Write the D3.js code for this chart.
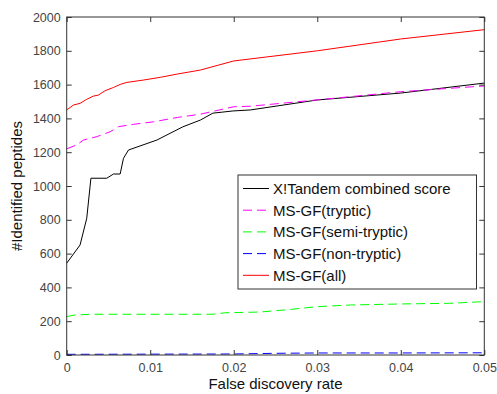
<!DOCTYPE html>
<html>
<head>
<meta charset="utf-8">
<script src="https://cdn.jsdelivr.net/npm/d3@7"></script>
<style>
body { margin: 0; background: #fff; }
svg { font-family: "Liberation Sans", Arial, sans-serif; }
</style>
</head>
<body>
<svg id="chart" width="497" height="394"></svg>
<script>
// FDR values (x) and #identified peptides (y)
var tandemFdr = [0, 0.0016, 0.0024, 0.0029, 0.0048, 0.0056, 0.0064, 0.0068, 0.0074, 0.0108, 0.0139, 0.016, 0.0175, 0.0199, 0.022, 0.030, 0.040, 0.050];
var tandemVal = [543, 651, 809, 1046, 1046, 1071, 1071, 1164, 1213, 1272, 1350, 1390, 1431, 1444, 1450, 1509, 1550, 1609];

var trypticFdr = [0, 0.0012, 0.002, 0.0036, 0.0052, 0.0062, 0.008, 0.0104, 0.0133, 0.016, 0.020, 0.022, 0.032, 0.040, 0.050];
var trypticVal = [1220, 1243, 1272, 1292, 1321, 1351, 1365, 1380, 1406, 1425, 1469, 1472, 1519, 1558, 1592];

var semiFdr = [0, 0.001, 0.003, 0.010, 0.0175, 0.019, 0.023, 0.026, 0.030, 0.034, 0.040, 0.046, 0.050];
var semiVal = [227, 237, 241, 241, 241, 250, 254, 266, 286, 296, 302, 306, 316];

var nonFdr = [0, 0.010, 0.020, 0.025, 0.030, 0.040, 0.050];
var nonVal = [4, 5, 6, 10, 12, 12, 13];

var allFdr = [0, 0.0008, 0.0016, 0.0024, 0.0032, 0.0038, 0.0046, 0.0056, 0.0064, 0.0072, 0.0092, 0.0112, 0.0133, 0.016, 0.020, 0.030, 0.040, 0.050];
var allVal = [1450, 1479, 1489, 1513, 1532, 1538, 1564, 1583, 1601, 1613, 1627, 1643, 1663, 1686, 1740, 1800, 1870, 1925];

var seriesNames = ["X!Tandem combined score", "MS-GF(tryptic)", "MS-GF(semi-tryptic)", "MS-GF(non-tryptic)", "MS-GF(all)"];
var seriesColors = ["#000000", "#ff00ff", "#00ff00", "#0000ff", "#ff0000"];
var seriesDashed = [false, true, true, true, false];

var xTicks = [0, 0.01, 0.02, 0.03, 0.04, 0.05];
var yTicks = [0, 200, 400, 600, 800, 1000, 1200, 1400, 1600, 1800, 2000];

var svg = d3.select("#chart");
var mLeft = 66.7, mRight = 484.3, mTop = 17, mBottom = 355;

var x = d3.scaleLinear().domain([0, 0.05]).range([mLeft, mRight]);
var y = d3.scaleLinear().domain([0, 2000]).range([mBottom, mTop]);

var series = [
	{fdr: tandemFdr, val: tandemVal},
	{fdr: trypticFdr, val: trypticVal},
	{fdr: semiFdr, val: semiVal},
	{fdr: nonFdr, val: nonVal},
	{fdr: allFdr, val: allVal}
];

var line = d3.line()
	.x(function (d) {return x(d[0]);})
	.y(function (d) {return y(d[1]);});

// lines
var plot = svg.append("g");
series.forEach(function (s, i) {
	var pts = s.fdr.map(function (f, j) {return [f, s.val[j]];});
	plot.append("path")
	.attr("d", line(pts))
	.attr("fill", "none")
	.attr("stroke", seriesColors[i])
	.attr("stroke-width", 1)
	.attr("stroke-dasharray", seriesDashed[i] ? "9,5" : null);
});

// axes, ticks inside (matlab style)
var axisColor = "#333";
function styleAxis(g) {
	g.select(".domain").remove();
	g.selectAll(".tick line").attr("stroke", axisColor);
	g.selectAll(".tick text").attr("fill", "#444").style("font-size", "12.5px").style("font-family", "Liberation Sans, Arial, sans-serif");
}

svg.append("g")
	.attr("transform", "translate(0," + mBottom + ")")
	.call(d3.axisBottom(x).tickValues(xTicks).tickSize(-5).tickPadding(8).tickFormat(d3.format("")))
	.call(styleAxis);

svg.append("g")
	.attr("transform", "translate(0," + mTop + ")")
	.call(d3.axisTop(x).tickValues(xTicks).tickSize(-5).tickFormat(""))
	.call(styleAxis);

svg.append("g")
	.attr("transform", "translate(" + mLeft + ",0)")
	.call(d3.axisLeft(y).tickValues(yTicks).tickSize(-5).tickPadding(6).tickFormat(d3.format("d")))
	.call(styleAxis);

svg.append("g")
	.attr("transform", "translate(" + mRight + ",0)")
	.call(d3.axisRight(y).tickValues(yTicks).tickSize(-5).tickFormat(""))
	.call(styleAxis);

svg.append("rect")
	.attr("x", mLeft).attr("y", mTop)
	.attr("width", mRight - mLeft).attr("height", mBottom - mTop)
	.attr("fill", "none").attr("stroke", axisColor).attr("stroke-width", 1);

// axis titles
svg.append("text")
	.attr("x", (mLeft + mRight) / 2).attr("y", 389)
	.attr("text-anchor", "middle")
	.style("font-size", "15px")
	.attr("fill", "#111")
	.text("False discovery rate");

svg.append("text")
	.attr("transform", "translate(22," + ((mTop + mBottom) / 2) + ") rotate(-90)")
	.attr("text-anchor", "middle")
	.style("font-size", "15px")
	.attr("fill", "#111")
	.text("#Identified peptides");

// legend
var legend = svg.append("g").attr("transform", "translate(238,175)");
legend.append("rect")
	.attr("width", 238.5).attr("height", 114)
	.attr("fill", "#fff").attr("stroke", axisColor).attr("stroke-width", 1);

seriesNames.forEach(function (name, i) {
	var ly = 13.5 + i * 21.7;
	legend.append("line")
	.attr("x1", 5).attr("x2", 31).attr("y1", ly).attr("y2", ly)
	.attr("stroke", seriesColors[i])
	.attr("stroke-dasharray", seriesDashed[i] ? "9,5" : null);
	legend.append("text")
	.attr("x", 35).attr("y", ly + 5.5)
	.style("font-size", "15px")
	.attr("fill", "#111")
	.text(name);
});
</script>
</body>
</html>
